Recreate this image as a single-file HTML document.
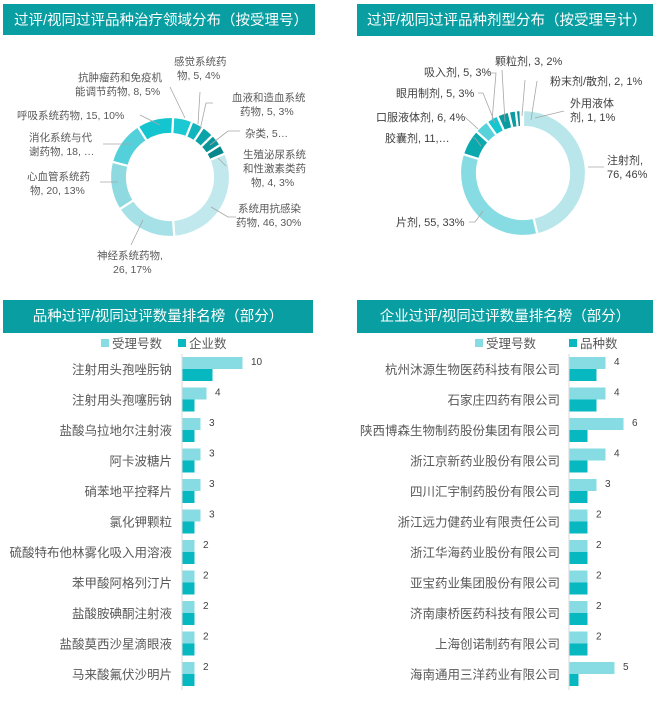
<!DOCTYPE html>
<html><head><meta charset="utf-8"><style>
body{margin:0;background:#fff;width:657px;height:696px;overflow:hidden}
svg text{font-family:"Liberation Sans","Noto Sans CJK SC",sans-serif}
.l{font-size:10.5px;fill:#595959}
.s{font-family:"Liberation Serif","Noto Sans CJK SC",serif !important;font-size:11px;fill:#404040}
.h{font-size:14.5px;fill:#fff}
.c{font-size:12.5px;fill:#595959}
.v{font-size:10px;fill:#404040}
.ln{stroke:#a6a6a6;stroke-width:0.8;fill:none}
</style></head><body>
<svg id="s" width="657" height="696" viewBox="0 0 657 696" xmlns="http://www.w3.org/2000/svg">
<rect x="3" y="4" width="312" height="31" fill="#089ea2"/>
<text class="h" x="14" y="25">过评/视同过评品种治疗领域分布（按受理号）</text>
<rect x="357" y="4" width="296" height="32" fill="#089ea2"/>
<text class="h" x="367" y="25">过评/视同过评品种剂型分布（按受理号计）</text>
<rect x="3" y="300" width="310" height="33" fill="#089ea2"/>
<text class="h" x="158" y="321" text-anchor="middle">品种过评/视同过评数量排名榜（部分）</text>
<rect x="357" y="300" width="296" height="33" fill="#089ea2"/>
<text class="h" x="505" y="321" text-anchor="middle">企业过评/视同过评数量排名榜（部分）</text>
<g id="d1"></g><g id="d2"></g>
<!-- donut1 labels -->
<g class="l">
<text x="174" y="65">感觉系统药</text><text x="177" y="79">物, 5, 4%</text>
<text x="78" y="81">抗肿瘤药和免疫机</text><text x="75" y="95">能调节药物, 8, 5%</text>
<text x="232" y="101">血液和造血系统</text><text x="240" y="115">药物, 5, 3%</text>
<text x="245" y="137">杂类, 5…</text>
<text x="243" y="158">生殖泌尿系统</text><text x="243" y="172">和性激素类药</text><text x="251" y="186">物, 4, 3%</text>
<text x="238" y="212">系统用抗感染</text><text x="236" y="226">药物, 46, 30%</text>
<text x="97" y="259">神经系统药物,</text><text x="113" y="273">26, 17%</text>
<text x="27" y="180">心血管系统药</text><text x="30" y="194">物, 20, 13%</text>
<text x="29" y="141">消化系统与代</text><text x="29" y="155">谢药物, 18, …</text>
<text x="17" y="119">呼吸系统药物, 15, 10%</text>
</g>
<path class="ln" d="M170 87 L185 118 M200 92 L198 124 M213 103 L206 103 L200 130 M240 131 L228 131 L210 145 M226 166 L218 158 M211 207 L228 217 L236 217 M143 220 L131 245 M100 182 L118 182 M103 144 L131 144 M140 115 L160 125"/>
<!-- donut2 labels -->
<g class="s">
<text x="495" y="65">颗粒剂, 3, 2%</text>
<text x="424" y="76">吸入剂, 5, 3%</text>
<text x="550" y="85">粉末剂/散剂, 2, 1%</text>
<text x="396" y="97">眼用制剂, 5, 3%</text>
<text x="570" y="107">外用液体</text><text x="570" y="121">剂, 1, 1%</text>
<text x="376" y="121">口服液体剂, 6, 4%</text>
<text x="385" y="142">胶囊剂, 11,…</text>
<text x="607" y="164">注射剂,</text><text x="607" y="178">76, 46%</text>
<text x="396" y="226">片剂, 55, 33%</text>
</g>
<path class="ln" d="M502 70 L505 122 M525 80 L522 116 M537 81 L531 120 M486 73 L496 73 L492 121 M478 93 L483 93 L495 123 M564 111 L535 118 M456 117 L465 117 L478 129 M473 138 L475 138 L481 146 M604 167 L588 167 M469 222 L475 222 L483 211"/>
<g id="b"></g>
</svg>
<script>
var NS="http://www.w3.org/2000/svg";
function el(p,t,a,txt){var e=document.createElementNS(NS,t);for(var k in a)e.setAttribute(k,a[k]);if(txt!=null)e.textContent=txt;p.appendChild(e);return e;}
function donut(g,cx,cy,ro,ri,data,off){
 var tot=0;data.forEach(function(d){tot+=d[0]});var a=off*Math.PI/180;
 data.forEach(function(d){var b=a+d[0]/tot*2*Math.PI;
  var x=function(r,t){return cx+r*Math.sin(t)},y=function(r,t){return cy-r*Math.cos(t)};
  var lg=(b-a)>Math.PI?1:0;
  el(g,"path",{d:"M"+x(ro,a)+" "+y(ro,a)+" A"+ro+" "+ro+" 0 "+lg+" 1 "+x(ro,b)+" "+y(ro,b)+" L"+x(ri,b)+" "+y(ri,b)+" A"+ri+" "+ri+" 0 "+lg+" 0 "+x(ri,a)+" "+y(ri,a)+"Z",fill:d[1],stroke:"#fff","stroke-width":2.2});
  a=b;});
}
donut(document.getElementById("d1"),170,177,60,43,[[8,"#1cc8d1"],[5,"#12b5bd"],[5,"#0aa3a8"],[5,"#09959a"],[4,"#07878b"],[46,"#c1e9ed"],[26,"#a6e1e7"],[20,"#8fdae1"],[18,"#53d0da"],[15,"#14c5cf"]],3);
donut(document.getElementById("d2"),523,173,63,46,[[76,"#b8e6eb"],[55,"#86dce2"],[11,"#0aa9ae"],[6,"#57d2da"],[5,"#14c6cf"],[5,"#0a9ba0"],[3,"#0c9da3"],[2,"#0a9298"],[1,"#13c1ca"]],0);
var b=document.getElementById("b");
function bars(axis,labelX,scale,names,vals,leg){
 el(b,"line",{x1:axis,y1:354,x2:axis,y2:690,stroke:"#d9d9d9","stroke-width":1});
 el(b,"rect",{x:leg[0],y:339,width:8,height:8,fill:"#86dce2"});
 el(b,"text",{x:leg[0]+11,y:348,"class":"c"},"受理号数");
 el(b,"rect",{x:leg[1],y:339,width:8,height:8,fill:"#07b8c0"});
 el(b,"text",{x:leg[1]+11,y:348,"class":"c"},leg[2]);
 names.forEach(function(n,i){var t=357+i*30.5;var v=vals[i];
  el(b,"rect",{x:axis+0.5,y:t,width:v[0]*scale,height:12,fill:"#86dce2"});
  el(b,"rect",{x:axis+0.5,y:t+12,width:v[1]*scale,height:12,fill:"#07b8c0"});
  el(b,"text",{x:axis+v[0]*scale+9,y:t+8,"class":leg[3]},v[0]);
  el(b,"text",{x:labelX,y:t+17,"class":"c","text-anchor":"end"},n);
 });
}
bars(182,172,6,["注射用头孢唑肟钠","注射用头孢噻肟钠","盐酸乌拉地尔注射液","阿卡波糖片","硝苯地平控释片","氯化钾颗粒","硫酸特布他林雾化吸入用溶液","苯甲酸阿格列汀片","盐酸胺碘酮注射液","盐酸莫西沙星滴眼液","马来酸氟伏沙明片"],
[[10,5],[4,2],[3,2],[3,2],[3,2],[3,2],[2,2],[2,2],[2,2],[2,2],[2,2]],[101,178,"企业数","v"]);
bars(569,560,9,["杭州沐源生物医药科技有限公司","石家庄四药有限公司","陕西博森生物制药股份集团有限公司","浙江京新药业股份有限公司","四川汇宇制药股份有限公司","浙江远力健药业有限责任公司","浙江华海药业股份有限公司","亚宝药业集团股份有限公司","济南康桥医药科技有限公司","上海创诺制药有限公司","海南通用三洋药业有限公司"],
[[4,3],[4,3],[6,2],[4,2],[3,2],[2,2],[2,2],[2,2],[2,2],[2,2],[5,1]],[475,569,"品种数","v"]);
</script>
</body></html>
